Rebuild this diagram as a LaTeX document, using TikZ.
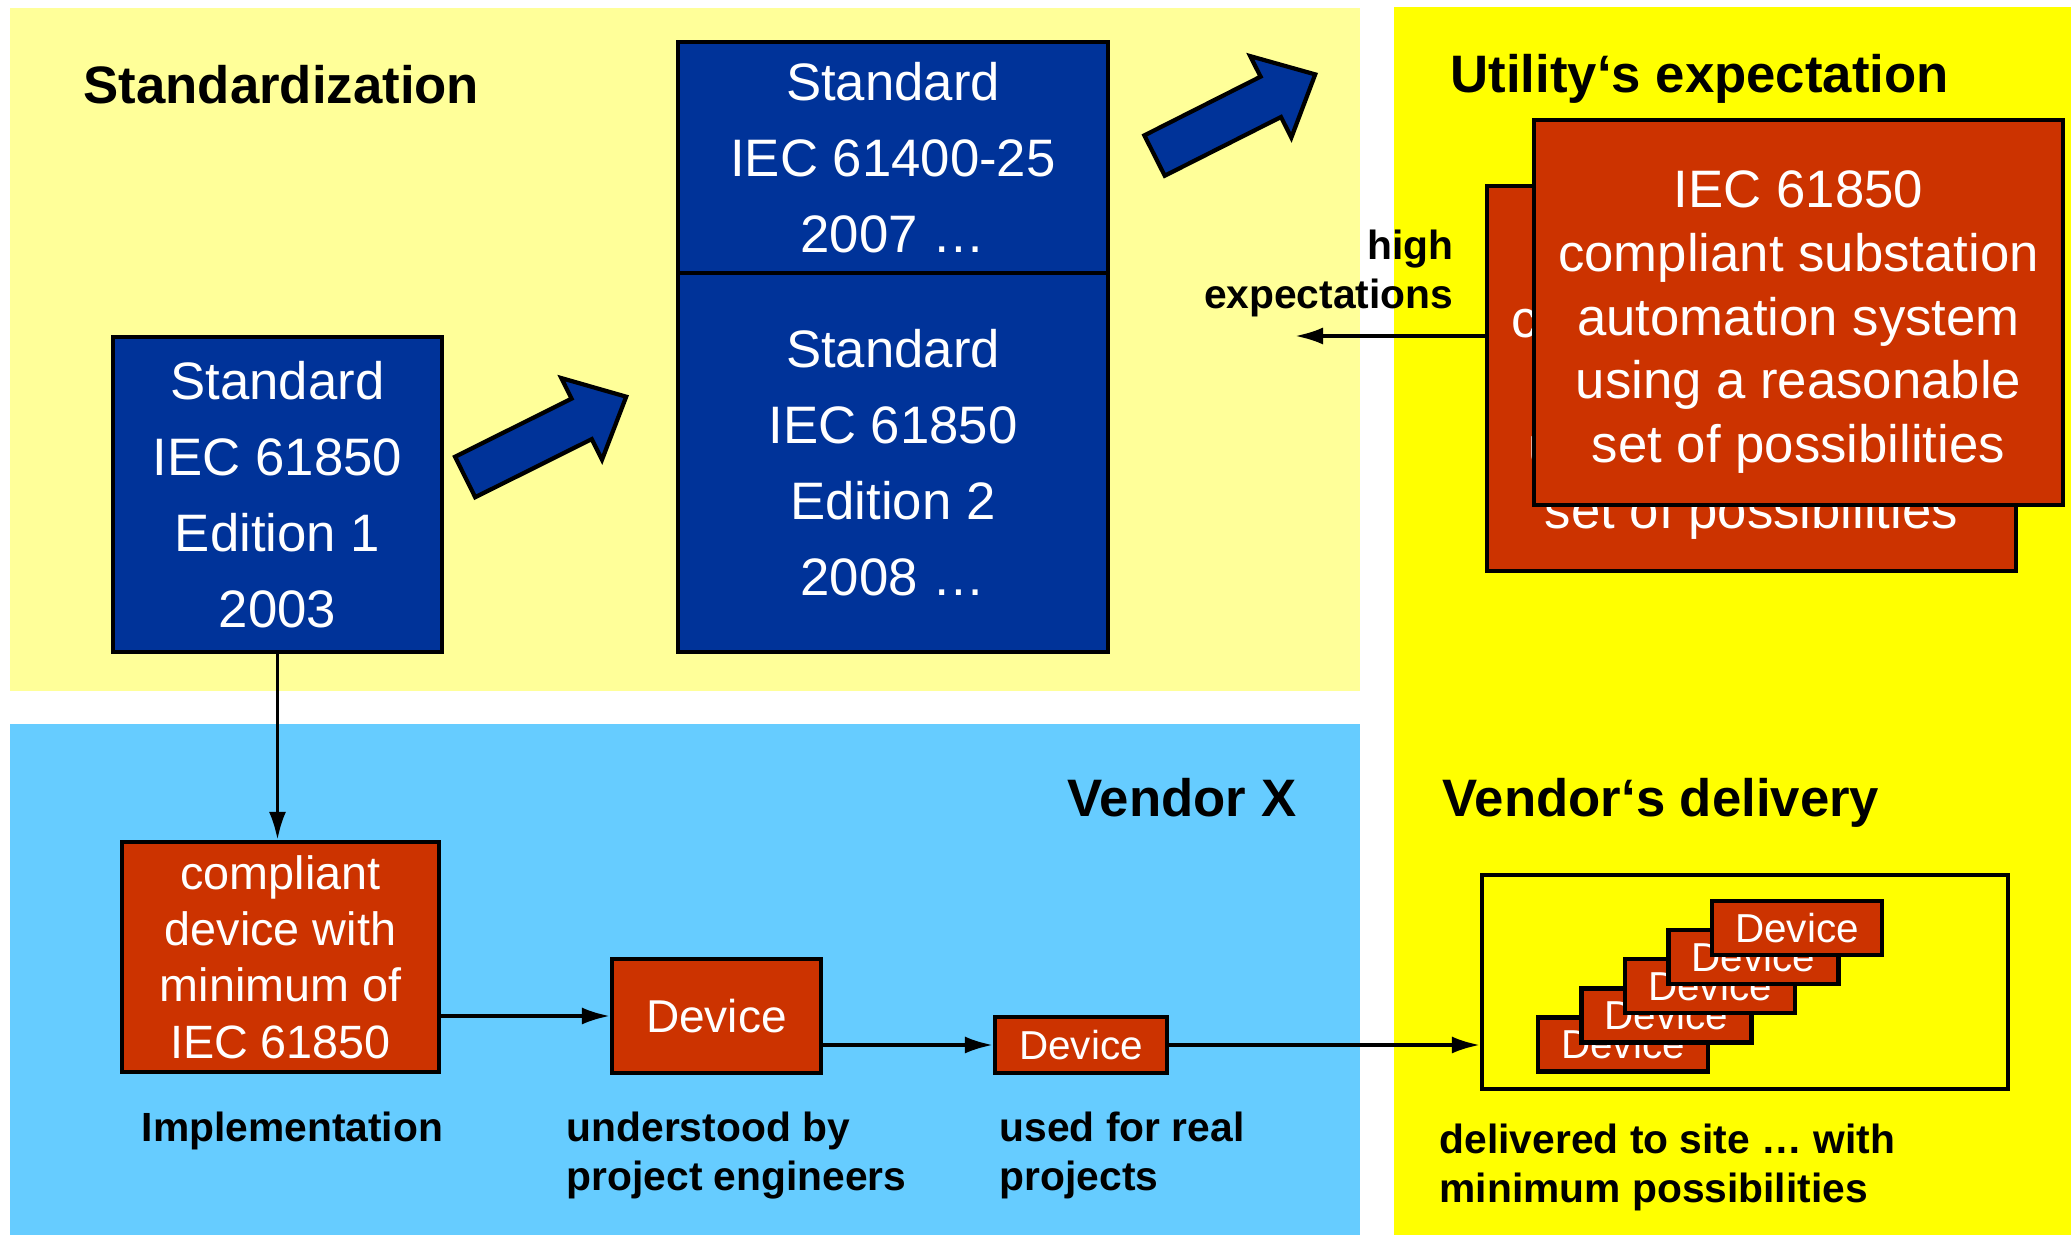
\documentclass[tikz,border=0pt]{standalone}
\usepackage{fontspec}
\setmainfont{Liberation Sans}
\usetikzlibrary{arrows.meta,shapes.arrows}

\definecolor{paleyellow}{RGB}{255,255,153}
\definecolor{brightyellow}{RGB}{255,255,0}
\definecolor{skyblue}{RGB}{102,204,255}
\definecolor{stdblue}{RGB}{0,51,153}
\definecolor{devred}{RGB}{204,51,0}

\begin{document}
\begin{tikzpicture}[
  stdbox/.style={draw, line width=1.2pt, fill=stdblue, text=white, align=center,
    inner sep=0pt, font=\fontsize{15}{21.6}\selectfont},
  devbox/.style={draw, line width=1.2pt, fill=devred, text=white, align=center, inner sep=0pt},
  fatarrow/.style={single arrow, draw, line width=1.2pt, fill=stdblue, minimum height=1.80cm,
    single arrow head extend=0.23cm, single arrow tip angle=85, inner xsep=0pt, inner ysep=0.205cm},
  conn/.style={line width=1pt, -{Latex[length=0.28cm,width=0.17cm]}},
  title/.style={anchor=base west, inner sep=0pt, font=\bfseries\fontsize{15}{18}\selectfont},
  remark/.style={anchor=north west, inner sep=0pt, align=left, font=\bfseries\fontsize{11.6}{13.9}\selectfont}
]
\useasboundingbox (0,0) rectangle (20.71,12.35);

% panels
\fill[paleyellow] (0.10,5.44) rectangle (13.60,12.27);
\fill[skyblue] (0.10,0) rectangle (13.60,5.11);
\fill[brightyellow] (13.94,0) rectangle (20.71,12.28);

\node[title] (stdtitle) at (0.83,11.31) {Standardization};
\node[title] (utiltitle) at (14.50,11.42) {Utility‘s expectation};
\node[title] (vxtitle) at (10.67,4.18) {Vendor X};
\node[title] (deltitle) at (14.42,4.18) {Vendor‘s delivery};

% standards
\node[stdbox, minimum width=3.29cm, minimum height=3.15cm] (ed1) at (2.775,7.405)
  {Standard\\IEC 61850\\Edition 1\\2003};
\node[stdbox, minimum width=4.30cm, minimum height=2.31cm] (iec25) at (8.93,10.775)
  {Standard\\IEC 61400-25\\2007 …};
\node[stdbox, minimum width=4.30cm, minimum height=3.79cm] (ed2) at (8.93,7.725)
  {Standard\\IEC 61850\\Edition 2\\2008 …};

\node[fatarrow, rotate=26.5, anchor=tip] (up1) at (6.29,8.397) {};
\node[fatarrow, rotate=26.8, anchor=tip] (up2) at (13.18,11.62) {};

% utility
\node[devbox, minimum width=5.29cm, minimum height=3.85cm, font=\fontsize{15}{18.2}\selectfont] (utback) at (17.515,8.565)
  {\rule{0pt}{0.56cm}IEC 61850\\compliant substation\\automation system\\using a reasonable\\set of possibilities};
\node[devbox, minimum width=5.29cm, minimum height=3.85cm, font=\fontsize{15}{18.2}\selectfont] (utfront) at (17.985,9.225)
  {\rule{0pt}{0.56cm}IEC 61850\\compliant substation\\automation system\\using a reasonable\\set of possibilities};

\coordinate (hightip) at (12.95,8.99);
\draw[conn] (utback.west |- hightip) -- (hightip);
\node[remark, anchor=north east, align=right] (high) at (14.54,10.06) {high\\expectations};

% vendor
\node[devbox, minimum width=3.17cm, minimum height=2.30cm, font=\fontsize{13.3}{16}\selectfont] (comp) at (2.805,2.78)
  {compliant\\device with\\minimum of\\IEC 61850};
\node[devbox, minimum width=2.09cm, minimum height=1.14cm, font=\fontsize{13.1}{16}\selectfont] (dev1) at (7.165,2.19) {Device};
\node[devbox, minimum width=1.72cm, minimum height=0.56cm, font=\fontsize{11.5}{14}\selectfont] (dev2) at (10.81,1.90) {Device};

\node[draw, line width=1.2pt, minimum width=5.26cm, minimum height=2.14cm] (frame) at (17.45,2.53) {};
\foreach \i in {0,...,4}
  \node[devbox, minimum width=1.70cm, minimum height=0.54cm, font=\fontsize{11.5}{14}\selectfont] (stack\i)
    at ({16.23+0.435*\i},{1.905+0.291*\i}) {Device};

\draw[conn] (ed1.south) -- (ed1.south |- comp.north);
\draw[conn] (comp.east |- dev1) -- (dev1.west);
\draw[conn] (dev1.east |- dev2) -- (dev2.west);
\draw[conn] (dev2.east) -- (frame.west |- dev2);

\node[remark] (impl) at (1.41,1.24) {Implementation};
\node[remark] (underst) at (5.66,1.24) {understood by\\project engineers};
\node[remark] (used) at (9.99,1.24) {used for real\\projects};
\node[remark] (deliv) at (14.39,1.12) {delivered to site … with\\minimum possibilities};
\end{tikzpicture}
\end{document}
